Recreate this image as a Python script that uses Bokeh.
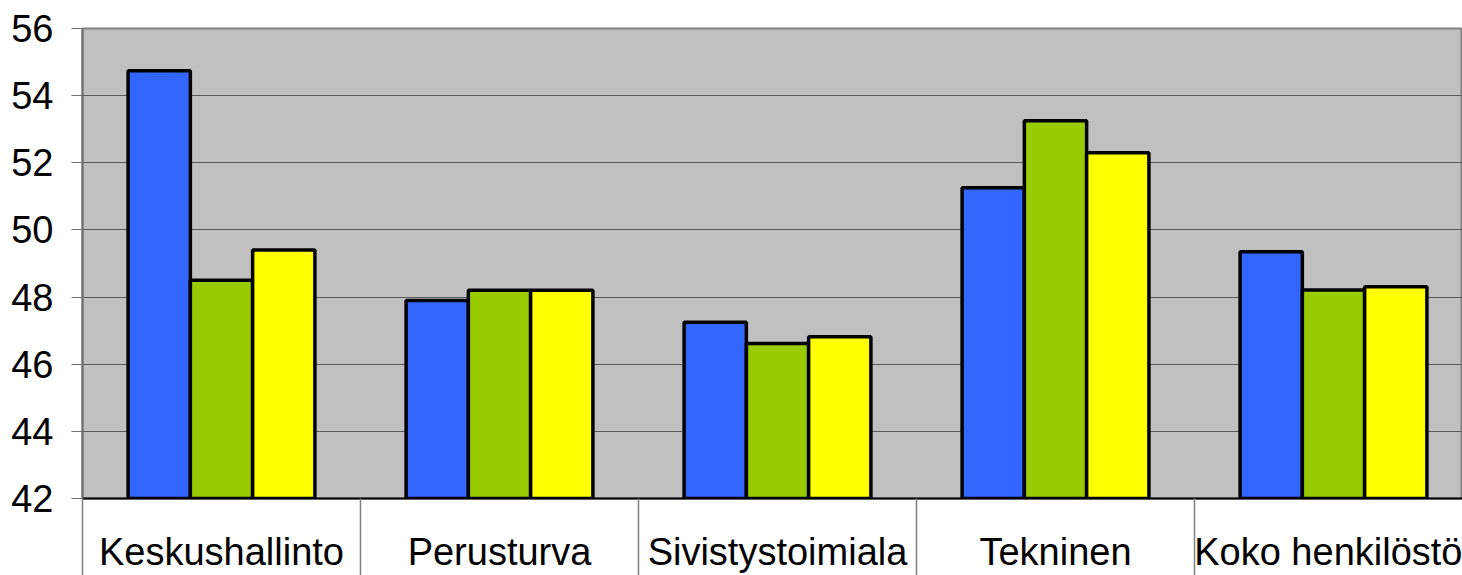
from bokeh.plotting import figure
from bokeh.models import ColumnDataSource, FixedTicker, Range1d
from bokeh.transform import dodge
from bokeh.embed import file_html
from bokeh.resources import INLINE

categories = ["Keskushallinto", "Perusturva", "Sivistystoimiala", "Tekninen", "Koko henkilöstö"]
series_blue = [54.74, 47.90, 47.25, 51.26, 49.35]
series_green = [48.50, 48.20, 46.62, 53.25, 48.21]
series_yellow = [49.40, 48.20, 46.82, 52.30, 48.31]
y_ticks = [42, 44, 46, 48, 50, 52, 54, 56]

centers = [i + 0.5 for i in range(len(categories))]
bounds = [float(i) for i in range(len(categories) + 1)]

source = ColumnDataSource(data=dict(
    x=centers,
    blue=series_blue,
    green=series_green,
    yellow=series_yellow,
))

FONT = "Liberation Sans"
W, H = 1462, 575
FRAME_LEFT = 82
CAT_PX = 278.0
x_end = (W - FRAME_LEFT) / CAT_PX

p = figure(width=W, height=H, output_backend="svg", toolbar_location=None,
           x_range=Range1d(0, x_end), y_range=Range1d(42, 56))
p.min_border_left = FRAME_LEFT
p.min_border_right = 0
p.min_border_top = 28
p.min_border_bottom = 76
p.background_fill_color = "#C0C0C0"
p.border_fill_color = "white"
p.outline_line_color = "#808080"
p.outline_line_width = 2

bw = 0.224
colors = ["#3366FF", "#99CC00", "#FFFF00"]
for col, off, c in zip(["blue", "green", "yellow"], [-0.224, 0.0, 0.224], colors):
    p.vbar(x=dodge("x", off), top=col, bottom=42, width=bw, source=source,
           fill_color=c, line_color="black", line_width=3.5)

# grid
p.xgrid.visible = False
p.ygrid.ticker = FixedTicker(ticks=y_ticks)
p.ygrid.grid_line_color = "#5a5a5a"
p.ygrid.grid_line_width = 1

# y axis
p.yaxis.ticker = FixedTicker(ticks=y_ticks)
p.yaxis.axis_line_color = "#707070"
p.yaxis.axis_line_width = 2
p.yaxis.major_tick_in = 0
p.yaxis.major_tick_out = 11
p.yaxis.major_tick_line_color = "#707070"
p.yaxis.minor_tick_line_color = None
p.yaxis.major_label_standoff = 18
p.yaxis.major_label_text_font = FONT
p.yaxis.major_label_text_font_size = "38px"
p.yaxis.major_label_text_color = "black"

# x axis: labels at centers, long separators at category bounds
p.xaxis.ticker = FixedTicker(ticks=centers, minor_ticks=bounds)
p.xaxis.major_label_overrides = {c: lab for c, lab in zip(centers, categories)}
p.xaxis.major_tick_in = 0
p.xaxis.major_tick_out = 0
p.xaxis.minor_tick_in = -80
p.xaxis.minor_tick_out = 0
p.xaxis.minor_tick_line_color = "#808080"
p.xaxis.minor_tick_line_width = 1.5
p.xaxis.axis_line_color = "black"
p.xaxis.axis_line_width = 2
p.xaxis.major_label_standoff = 32
p.xaxis.major_label_text_font = FONT
p.xaxis.major_label_text_font_size = "38px"
p.xaxis.major_label_text_color = "black"

open("out.html", "w").write(file_html(p, INLINE))
